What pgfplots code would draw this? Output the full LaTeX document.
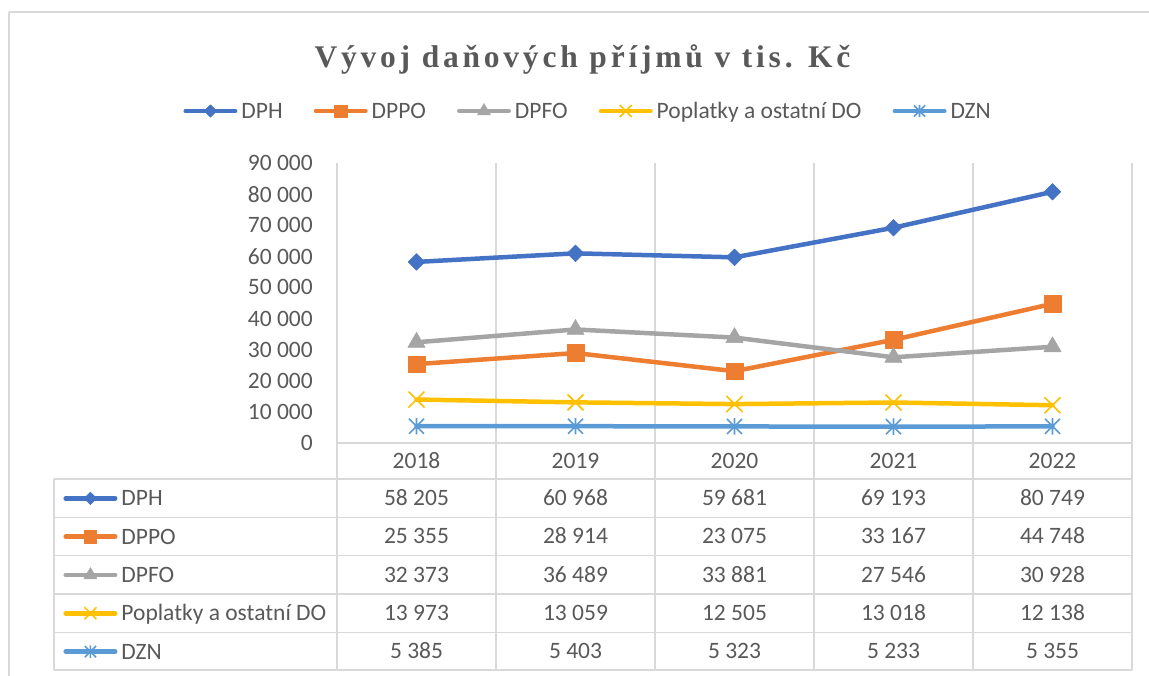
\documentclass[border=0pt]{standalone}
\usepackage{fontspec}
\setmainfont{Carlito}
\newfontfamily\titlefont[LetterSpace=12]{Liberation Serif}
\usepackage{pgfplots}
\usepackage{pgfplotstable}
\pgfplotsset{compat=1.18}
\definecolor{cDPH}{HTML}{4472C4}
\definecolor{cDPPO}{HTML}{ED7D31}
\definecolor{cDPFO}{HTML}{A5A5A5}
\definecolor{cPOP}{HTML}{FFC000}
\definecolor{cDZN}{HTML}{5B9BD5}
\definecolor{txt}{HTML}{595959}
\definecolor{grd}{HTML}{D9D9D9}
\newcommand\f{\fontsize{23.5}{28}\selectfont}

\pgfdeclareplotmark{xcross}{%
  \pgfpathmoveto{\pgfqpoint{-\pgfplotmarksize}{-\pgfplotmarksize}}%
  \pgfpathlineto{\pgfqpoint{\pgfplotmarksize}{\pgfplotmarksize}}%
  \pgfpathmoveto{\pgfqpoint{-\pgfplotmarksize}{\pgfplotmarksize}}%
  \pgfpathlineto{\pgfqpoint{\pgfplotmarksize}{-\pgfplotmarksize}}%
  \pgfusepathqstroke}
\pgfdeclareplotmark{xstar}{%
  \pgfpathmoveto{\pgfqpoint{-\pgfplotmarksize}{-\pgfplotmarksize}}%
  \pgfpathlineto{\pgfqpoint{\pgfplotmarksize}{\pgfplotmarksize}}%
  \pgfpathmoveto{\pgfqpoint{-\pgfplotmarksize}{\pgfplotmarksize}}%
  \pgfpathlineto{\pgfqpoint{\pgfplotmarksize}{-\pgfplotmarksize}}%
  \pgfpathmoveto{\pgfqpoint{0pt}{-1.1\pgfplotmarksize}}%
  \pgfpathlineto{\pgfqpoint{0pt}{1.1\pgfplotmarksize}}%
  \pgfusepathqstroke}

\pgfplotstableread{
x DPH DPPO DPFO POP DZN
0 58205 25355 32373 13973 5385
1 60968 28914 36489 13059 5403
2 59681 23075 33881 12505 5323
3 69193 33167 27546 13018 5233
4 80749 44748 30928 12138 5355
}\data

\pgfplotsset{
 base/.style={line width=4.5pt, line cap=round, line join=round},
 sDPH/.style={base, color=cDPH, mark=square*, mark size=5.9pt, mark options={rotate=45, solid, line width=0.5pt}},
 sDPPO/.style={base, color=cDPPO, mark=square*, mark size=8.3pt, mark options={solid, line width=0.5pt}},
 sDPFO/.style={base, color=cDPFO, mark=triangle*, mark size=10pt, mark options={solid, line width=0.5pt}},
 sPOP/.style={base, color=cPOP, mark=xcross, mark size=8pt, mark options={solid, line width=1.6pt, line cap=butt}},
 sDZN/.style={base, color=cDZN, mark=xstar, mark size=7.5pt, mark options={solid, line width=1.6pt, line cap=butt}},
 keyimg/.style={legend image code/.code={\draw[mark repeat=2,mark phase=2,every mark/.append style={scale=0.75}] plot coordinates {(0pt,0pt)(24.75pt,0pt)(49.5pt,0pt)};}},
 common/.style={at={(337pt,232pt)}, anchor=south west, scale only axis, width=795pt, height=280pt,
   xmin=-0.5, xmax=4.5, ymin=0, ymax=90000, clip=false, keyimg, legend cell align=left},
}

\begin{document}
\begin{tikzpicture}
\useasboundingbox (0,0) rectangle (1149pt,675pt);
% frame and grid
\begin{scope}[grd, line width=1.5pt]
\draw[line width=1.2pt] (9pt,663pt) -- (1175pt,663pt);
\draw[line width=1.2pt] (9pt,663pt) -- (9pt,-10pt);
\foreach \k in {0,...,5} \draw ({337pt+159pt*\k},512pt) -- ({337pt+159pt*\k},5pt);
\draw (337pt,232pt) -- (1132pt,232pt);
\foreach \yy in {196,157.7,119.3,81,42.7,5} \draw (54pt,\yy pt) -- (1132pt,\yy pt);
\draw (54pt,196pt) -- (54pt,5pt);
\end{scope}
% title
\node[font=\titlefont\bfseries\fontsize{31.5}{36}\selectfont, text=txt, anchor=base] at (582.5pt,607pt) {Vývoj daňových příjmů v tis. Kč};

\begin{axis}[common,
 axis line style={draw=none},
 major tick length=0pt,
 xtick={0,...,4}, xticklabels={2018,2019,2020,2021,2022},
 ytick={0,10000,...,90000},
 scaled y ticks=false,
 yticklabel style={/pgf/number format/1000 sep={\ }, /pgf/number format/assume math mode=true},
 tick label style={font=\f, text=txt},
 yticklabel style={anchor=east, inner sep=0pt, xshift=-24pt},
 xticklabel style={anchor=base, inner sep=0pt, yshift=-25.4pt},
 legend columns=5,
 legend style={at={(-0.19340,1.18571)}, anchor=west, draw=none, fill=none, inner sep=0pt, font=\f, text=txt,
   nodes={inner sep=0pt, text height=18.8pt, text depth=4pt},
   /tikz/every odd column/.append style={column sep=4pt},
   /tikz/every even column/.append style={column sep=31pt}},
]
\addplot[sDPH] table[x=x,y=DPH]{\data};
\addlegendentry{DPH}
\addplot[sDPPO] table[x=x,y=DPPO]{\data};
\addlegendentry{DPPO}
\addplot[sDPFO] table[x=x,y=DPFO]{\data};
\addlegendentry{DPFO}
\addplot[sPOP] table[x=x,y=POP]{\data};
\addlegendentry{Poplatky a ostatní DO}
\addplot[sDZN] table[x=x,y=DZN]{\data};
\addlegendentry{DZN}
\end{axis}

\begin{axis}[common, hide axis,
 legend columns=1,
 legend style={at={(-0.34434,-0.15643)}, anchor=north west, draw=none, fill=none, inner sep=0pt, font=\f, text=txt,
   row sep=15.5pt,
   nodes={inner sep=0pt, text height=18.8pt, text depth=4pt},
   /tikz/every odd column/.append style={column sep=4pt}},
]
\addlegendimage{sDPH}
\addlegendentry{DPH}
\addlegendimage{sDPPO}
\addlegendentry{DPPO}
\addlegendimage{sDPFO}
\addlegendentry{DPFO}
\addlegendimage{sPOP}
\addlegendentry{Poplatky a ostatní DO}
\addlegendimage{sDZN}
\addlegendentry{DZN}
\end{axis}

% data table values
\foreach \c [count=\r from 0] in {DPH,DPPO,DPFO,POP,DZN}{
  \foreach \i in {0,...,4}{
    \pgfplotstablegetelem{\i}{\c}\of\data
    \node[font=\f, text=txt, anchor=base, inner sep=0pt] at ({416.5pt+159pt*\i},{169.4pt-38.3pt*\r})
      {\pgfmathprintnumber[1000 sep={\ }, assume math mode=true]{\pgfplotsretval}};
  }
}
\end{tikzpicture}
\end{document}
